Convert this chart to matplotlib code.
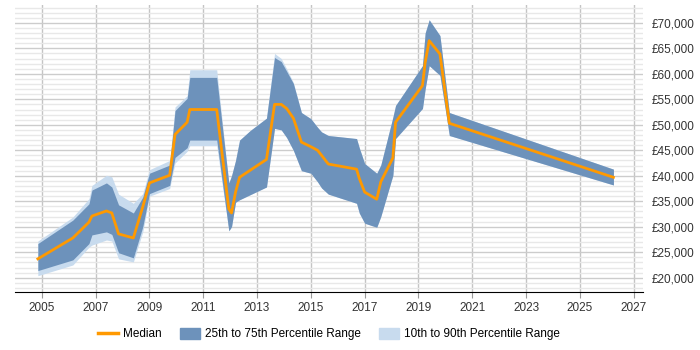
import matplotlib
matplotlib.use("Agg")
import matplotlib.pyplot as plt
from matplotlib.patches import Patch
from matplotlib.lines import Line2D
from matplotlib.ticker import MultipleLocator, FuncFormatter

plt.rcParams['font.family'] = ['Liberation Sans', 'DejaVu Sans']

years = [2004.85, 2006.15, 2006.75, 2006.86, 2007.4, 2007.6, 2007.85, 2008.4, 2008.75, 2009.0,
         2009.75, 2009.95, 2010.4, 2010.5, 2011.5, 2011.95, 2012.05, 2012.2, 2012.35, 2012.75,
         2013.35, 2013.65, 2013.9, 2014.1, 2014.35, 2014.65, 2015.0, 2015.25, 2015.4, 2015.65,
         2016.7, 2016.8, 2017.0, 2017.45, 2017.6, 2018.05, 2018.15, 2019.15, 2019.25, 2019.4,
         2019.8, 2020.15, 2026.25]
median = [23.7, 27.8, 30.9, 32.1, 33.1, 32.7, 28.6, 27.8, 33.9, 38.6,
          40.1, 48.1, 50.5, 53.0, 53.0, 33.5, 32.7, 36.8, 39.7, 41.1,
          43.2, 54.0, 54.0, 53.2, 51.3, 46.6, 45.7, 45.0, 44.0, 42.3,
          41.3, 39.5, 36.8, 35.4, 38.8, 43.5, 50.5, 57.7, 62.2, 66.5,
          63.9, 50.3, 39.7]
p25 = [21.4, 23.5, 26.7, 28.4, 29.0, 28.5, 24.9, 23.9, 30.0, 36.5,
       38.1, 43.6, 45.5, 47.0, 47.0, 29.2, 30.0, 34.8, 35.3, 36.3,
       37.8, 49.3, 49.0, 47.5, 45.0, 41.0, 40.5, 38.8, 37.6, 36.4,
       34.6, 32.7, 30.7, 29.9, 32.0, 40.1, 47.3, 53.2, 57.0, 61.6,
       59.7, 47.9, 38.2]
p75 = [26.7, 31.3, 34.5, 37.2, 38.6, 37.8, 34.3, 32.7, 35.8, 40.5,
       42.1, 52.8, 55.2, 59.3, 59.3, 38.6, 40.0, 43.0, 47.0, 48.9,
       51.3, 63.2, 62.4, 60.5, 58.1, 52.4, 51.2, 49.5, 48.6, 47.9,
       47.3, 45.5, 42.4, 40.5, 42.1, 51.5, 53.8, 61.6, 68.0, 70.6,
       67.5, 52.4, 41.3]
p10 = [20.4, 22.5, 26.0, 26.4, 27.4, 27.2, 23.7, 23.1, 29.0, 36.0,
       37.5, 42.5, 44.8, 45.9, 45.9, 29.2, 30.0, 34.8, 35.3, 36.3,
       37.8, 49.3, 49.0, 47.5, 45.0, 41.0, 40.5, 38.8, 37.6, 36.4,
       34.6, 32.7, 30.7, 29.9, 32.0, 40.1, 47.3, 53.2, 57.0, 61.6,
       59.7, 47.9, 38.2]
p90 = [27.2, 31.9, 35.5, 38.1, 40.1, 39.8, 36.4, 34.6, 36.5, 41.2,
       43.0, 53.5, 55.7, 60.8, 60.8, 38.6, 40.0, 43.0, 47.0, 48.9,
       51.3, 64.0, 63.0, 61.0, 58.3, 52.4, 51.2, 49.5, 48.6, 47.9,
       47.3, 45.5, 42.4, 40.5, 42.1, 51.5, 53.8, 61.6, 68.0, 70.6,
       67.5, 52.4, 41.3]
xticks = [2005, 2007, 2009, 2011, 2013, 2015, 2017, 2019, 2021, 2023, 2025, 2027]

k = lambda a: [v * 1000 for v in a]

fig = plt.figure(figsize=(7, 3.5), dpi=100)
ax = fig.add_axes([15/700, 1-292/350, (643-15)/700, (292-5)/350])

light = '#c8dbee'
dark = '#6d92bb'
orange = '#ff9900'

ax.fill_between(years, k(p10), k(p90), color=light, lw=0, zorder=2)
ax.fill_between(years, k(p25), k(p75), color=dark, lw=0, zorder=3)
ax.plot(years, k(median), color=orange, lw=2, zorder=4)

ax.set_xlim(2004.0, 2027.35)
ax.set_ylim(17200, 73500)
ax.set_xticks(xticks)
ax.yaxis.set_major_locator(MultipleLocator(5000))
ax.yaxis.set_minor_locator(MultipleLocator(1000))
ax.yaxis.set_major_formatter(FuncFormatter(lambda v, p: '£{:,.0f}'.format(v)))
ax.yaxis.tick_right()
ax.grid(axis='y', which='major', color='#cccccc', lw=1, zorder=0)
ax.grid(axis='y', which='minor', color='#e8e8e8', lw=1, zorder=0)
ax.grid(axis='x', which='major', color='#c4c4c4', lw=1, zorder=0)
ax.set_axisbelow(True)
for s in ['top', 'right', 'left']:
    ax.spines[s].set_visible(False)
ax.spines['bottom'].set_color('#000000')
ax.tick_params(axis='y', which='both', length=0, labelsize=8.5, pad=6, colors='#333333')
ax.tick_params(axis='x', length=4, labelsize=8.5, colors='#333333', color='#999999')

handles = [Line2D([0], [0], color=orange, lw=2.5),
           Patch(color=dark), Patch(color=light)]
labels = ['Median', '25th to 75th Percentile Range', '10th to 90th Percentile Range']
fig.legend(handles, labels, loc='center', bbox_to_anchor=(329/700, 1-334/350), ncol=3,
           frameon=False, fontsize=8.5, handlelength=1.7, handletextpad=0.45,
           columnspacing=1.5, handleheight=1.1)

fig.savefig('out.png', dpi=100)
